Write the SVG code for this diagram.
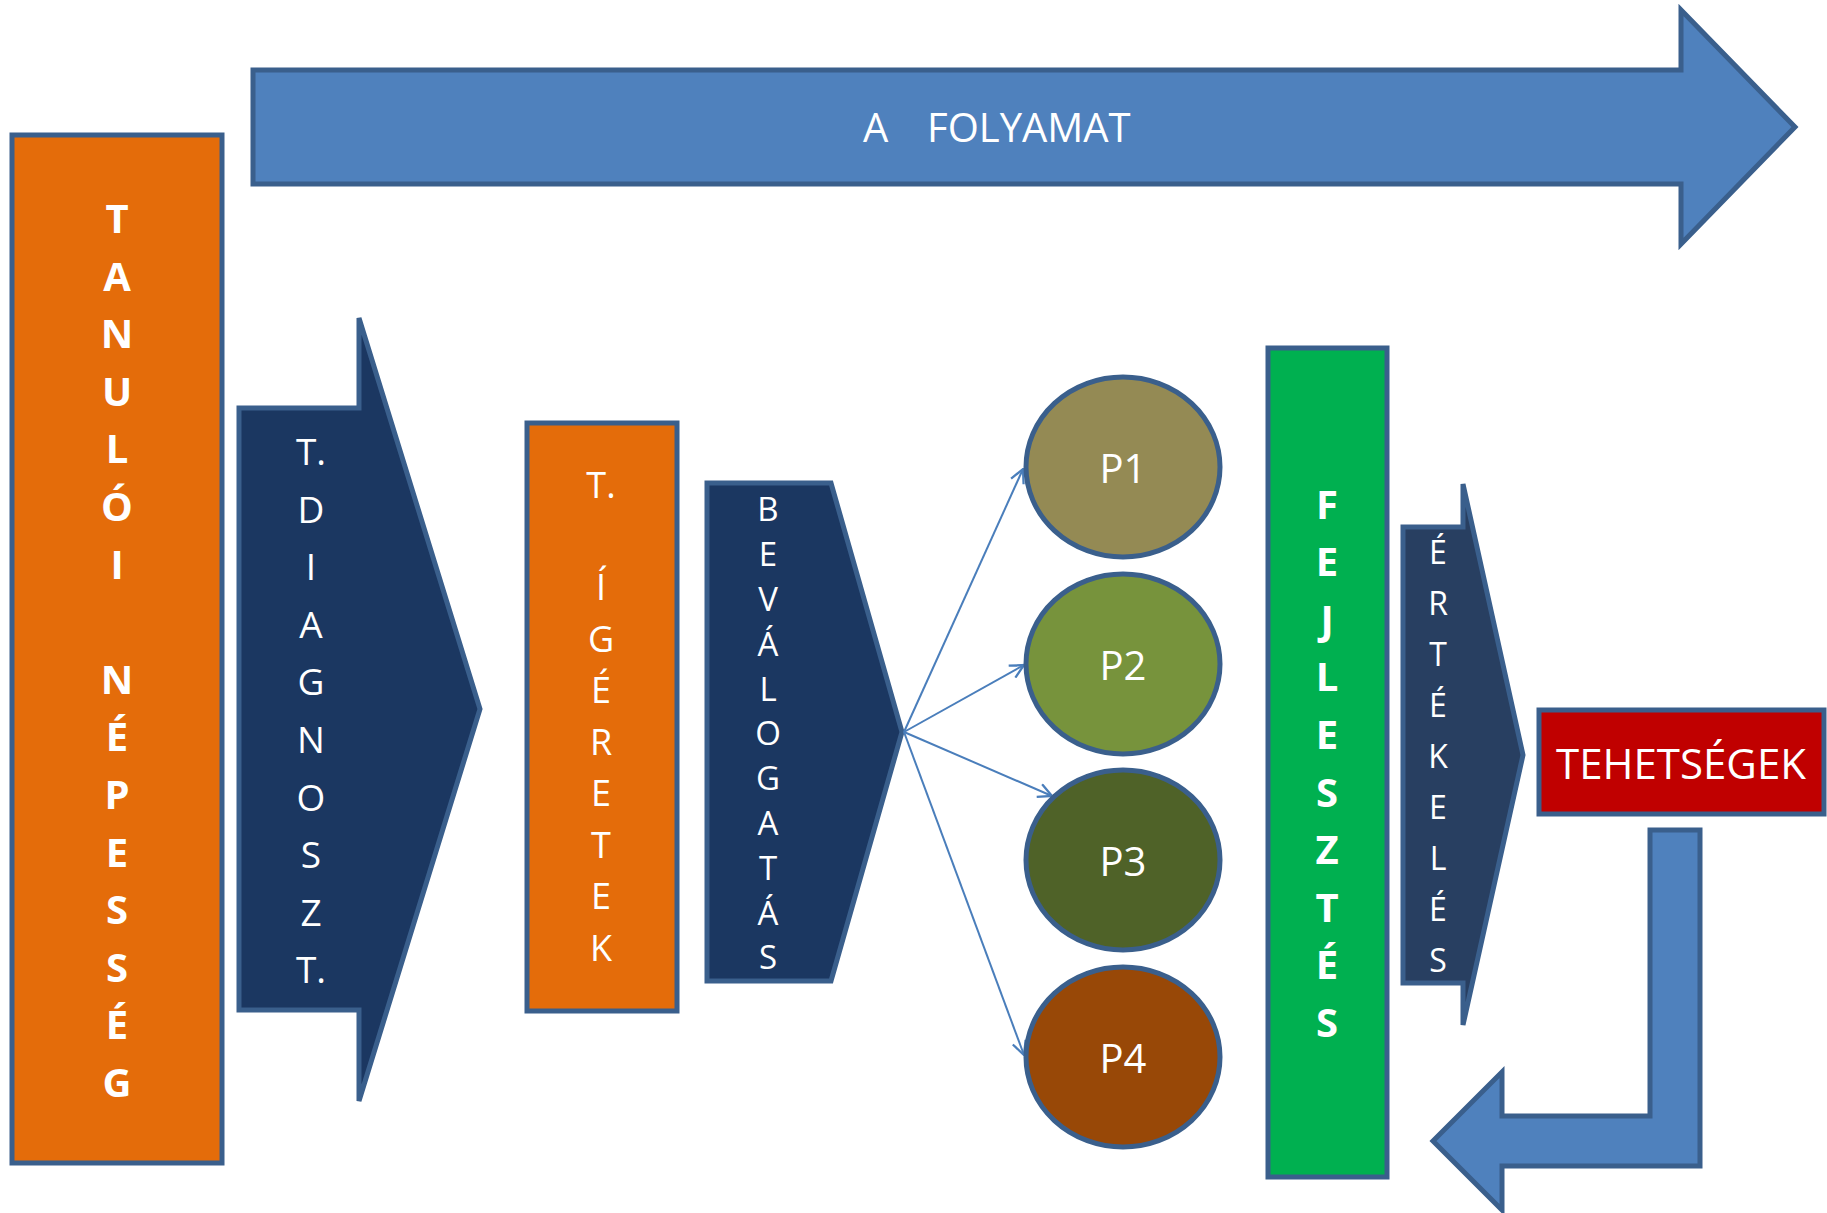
<svg xmlns="http://www.w3.org/2000/svg" width="1827" height="1213" viewBox="0 0 1827 1213">
<defs>
<style>
.shape{stroke:#3A5F8C;stroke-width:5;stroke-linejoin:miter}
.t{fill:#FFFFFF;font-family:"Open Sans","Liberation Sans",sans-serif;text-anchor:middle}
.b{font-weight:bold}
.conn{stroke:#4A7EBB;stroke-width:2;fill:none}
</style>
<marker id="ah" viewBox="0 0 14 14" refX="13" refY="7" markerWidth="16" markerHeight="16" markerUnits="userSpaceOnUse" orient="auto">
<path d="M1,1 L13,7 L1,13" fill="none" stroke="#4A7EBB" stroke-width="2"/>
</marker>
</defs>
<rect width="1827" height="1213" fill="#FFFFFF"/>

<g id="folyamat">
<polygon class="shape" fill="#4F81BD" points="253,70 1681,70 1681,10 1795,127 1681,244 1681,184 253,184"/>
<text class="t" font-size="40" style="text-anchor:start" y="142"><tspan x="863">A</tspan><tspan x="927">FOLYAMAT</tspan></text>
</g>

<g id="tanuloi">
<rect class="shape" fill="#E46C0A" x="12" y="135" width="210" height="1028"/>
<text class="t b" font-size="40">
<tspan x="117" y="233">T</tspan><tspan x="117" y="290.6">A</tspan><tspan x="117" y="348.2">N</tspan><tspan x="117" y="405.8">U</tspan><tspan x="117" y="463.4">L</tspan><tspan x="117" y="521">Ó</tspan><tspan x="117" y="578.6">I</tspan><tspan x="117" y="693.8">N</tspan><tspan x="117" y="751.4">É</tspan><tspan x="117" y="809">P</tspan><tspan x="117" y="866.6">E</tspan><tspan x="117" y="924.2">S</tspan><tspan x="117" y="981.8">S</tspan><tspan x="117" y="1039.4">É</tspan><tspan x="117" y="1097">G</tspan>
</text>
</g>

<g id="diagnoszt">
<polygon class="shape" fill="#1B3761" points="239,408 359,408 359,318 480,709 359,1101 359,1010 239,1010"/>
<text class="t" font-size="37">
<tspan x="311" y="465">T.</tspan><tspan x="311" y="522.6">D</tspan><tspan x="311" y="580.2">I</tspan><tspan x="311" y="637.8">A</tspan><tspan x="311" y="695.4">G</tspan><tspan x="311" y="753">N</tspan><tspan x="311" y="810.6">O</tspan><tspan x="311" y="868.2">S</tspan><tspan x="311" y="925.8">Z</tspan><tspan x="311" y="983.4">T.</tspan>
</text>
</g>

<g id="igeretek">
<rect class="shape" fill="#E46C0A" x="527" y="423" width="150" height="588"/>
<text class="t" font-size="36">
<tspan x="601" y="498">T.</tspan><tspan x="601" y="600">Í</tspan><tspan x="601" y="651.5">G</tspan><tspan x="601" y="703">É</tspan><tspan x="601" y="754.5">R</tspan><tspan x="601" y="806">E</tspan><tspan x="601" y="857.5">T</tspan><tspan x="601" y="909">E</tspan><tspan x="601" y="960.5">K</tspan>
</text>
</g>

<g id="bevalogatas">
<polygon class="shape" fill="#1B3761" points="707,483 831,483 902,732 831,981 707,981"/>
<text class="t" font-size="33">
<tspan x="768" y="521.4">B</tspan><tspan x="768" y="566.2">E</tspan><tspan x="768" y="611">V</tspan><tspan x="768" y="655.8">Á</tspan><tspan x="768" y="700.6">L</tspan><tspan x="768" y="745.4">O</tspan><tspan x="768" y="790.2">G</tspan><tspan x="768" y="835">A</tspan><tspan x="768" y="879.8">T</tspan><tspan x="768" y="924.6">Á</tspan><tspan x="768" y="969.4">S</tspan>
</text>
</g>

<g id="connectors">
<line class="conn" x1="904" y1="732" x2="1023" y2="469" marker-end="url(#ah)"/>
<line class="conn" x1="904" y1="732" x2="1024" y2="665" marker-end="url(#ah)"/>
<line class="conn" x1="904" y1="732" x2="1052" y2="796" marker-end="url(#ah)"/>
<line class="conn" x1="904" y1="732" x2="1024" y2="1055" marker-end="url(#ah)"/>
</g>

<g id="p1">
<ellipse class="shape" fill="#948A54" cx="1123" cy="467" rx="97" ry="90"/>
<text class="t" font-size="40" x="1123" y="483">P1</text>
</g>
<g id="p2">
<ellipse class="shape" fill="#77933C" cx="1123" cy="664" rx="97" ry="90"/>
<text class="t" font-size="40" x="1123" y="680">P2</text>
</g>
<g id="p3">
<ellipse class="shape" fill="#4F6228" cx="1123" cy="860" rx="97" ry="90"/>
<text class="t" font-size="40" x="1123" y="876">P3</text>
</g>
<g id="p4">
<ellipse class="shape" fill="#984807" cx="1123" cy="1057" rx="97" ry="90"/>
<text class="t" font-size="40" x="1123" y="1073">P4</text>
</g>

<g id="fejlesztes">
<rect class="shape" fill="#00B050" x="1268" y="348" width="119" height="829"/>
<text class="t b" font-size="40">
<tspan x="1327" y="518.6">F</tspan><tspan x="1327" y="576.2">E</tspan><tspan x="1327" y="633.8">J</tspan><tspan x="1327" y="691.4">L</tspan><tspan x="1327" y="749">E</tspan><tspan x="1327" y="806.6">S</tspan><tspan x="1327" y="864.2">Z</tspan><tspan x="1327" y="921.8">T</tspan><tspan x="1327" y="979.4">É</tspan><tspan x="1327" y="1037">S</tspan>
</text>
</g>

<g id="ertekeles">
<polygon class="shape" fill="#283F61" points="1403,527 1463,527 1463,484 1523,755 1463,1025 1463,983 1403,983"/>
<text class="t" font-size="32">
<tspan x="1438" y="564.4">É</tspan><tspan x="1438" y="615.4">R</tspan><tspan x="1438" y="666.4">T</tspan><tspan x="1438" y="717.4">É</tspan><tspan x="1438" y="768.4">K</tspan><tspan x="1438" y="819.4">E</tspan><tspan x="1438" y="870.4">L</tspan><tspan x="1438" y="921.4">É</tspan><tspan x="1438" y="972.4">S</tspan>
</text>
</g>

<g id="tehetsegek">
<rect class="shape" fill="#C00000" x="1539" y="710" width="285" height="104"/>
<text class="t" font-size="42" x="1681" y="779">TEHETSÉGEK</text>
</g>

<g id="visszacsatolas">
<polygon class="shape" fill="#4F81BD" points="1650,830 1700,830 1700,1166 1502,1166 1502,1210 1433,1141 1502,1072 1502,1116 1650,1116"/>
</g>
</svg>
